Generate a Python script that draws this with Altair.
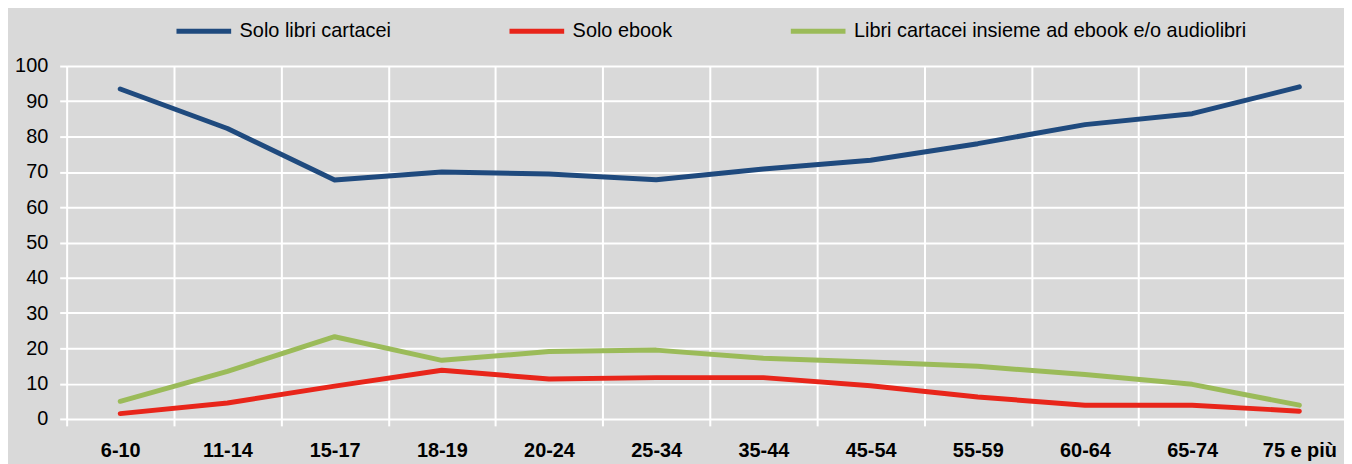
import altair as alt
import pandas as pd

ages = ["6-10", "11-14", "15-17", "18-19", "20-24", "25-34", "35-44",
        "45-54", "55-59", "60-64", "65-74", "75 e più"]
series_names = ["Solo libri cartacei", "Solo ebook",
                "Libri cartacei insieme ad ebook e/o audiolibri"]
solo_cartacei = [93.5, 82.3, 67.7, 70.0, 69.4, 67.8, 70.8, 73.3, 78.0, 83.4, 86.5, 94.1]
solo_ebook = [1.5, 4.5, 9.3, 13.8, 11.3, 11.7, 11.7, 9.4, 6.2, 3.9, 3.9, 2.2]
insieme = [5.0, 13.5, 23.3, 16.6, 19.1, 19.5, 17.2, 16.1, 14.9, 12.6, 9.8, 3.9]
colors = ["#1F4A7E", "#E8251A", "#9BBB59"]

rows = []
for name, vals in zip(series_names, [solo_cartacei, solo_ebook, insieme]):
    for a, v in zip(ages, vals):
        rows.append({"age": a, "serie": name, "value": v})
df = pd.DataFrame(rows)

FONT = "Liberation Sans Narrow, Arial Narrow, Liberation Sans, Arial, sans-serif"

chart = alt.Chart(df).mark_line(strokeWidth=5, strokeCap="round", strokeJoin="round").encode(
    x=alt.X("age:N", sort=ages, title=None,
            scale=alt.Scale(type="band", range=[0, 1294], paddingInner=0, paddingOuter=0),
            axis=alt.Axis(tickBand="extent", grid=True, gridColor="white", gridWidth=2,
                          ticks=True, tickColor="white", tickWidth=2, tickSize=7,
                          domain=False, labelAngle=0, labelFontWeight="bold",
                          labelFontSize=20, labelFont=FONT, labelColor="black",
                          labelPadding=15)),
    y=alt.Y("value:Q", title=None,
            scale=alt.Scale(domain=[0, 100], nice=False),
            axis=alt.Axis(values=list(range(0, 101, 10)), grid=True, gridColor="white",
                          gridWidth=2, ticks=True, tickColor="white", tickWidth=2,
                          tickSize=7, domain=False, labelFontSize=20, labelFont=FONT,
                          labelColor="black", labelPadding=12)),
    color=alt.Color("serie:N", title=None,
                    scale=alt.Scale(domain=series_names, range=colors),
                    legend=alt.Legend(orient="none", legendX=108, legendY=-65,
                                      direction="horizontal", symbolType="stroke",
                                      symbolSize=3025, symbolStrokeWidth=5,
                                      labelFontSize=20, labelFont=FONT,
                                      labelColor="black", labelOffset=6,
                                      columnPadding=108, padding=0,
                                      labelLimit=600)),
    order=alt.Order("age_idx:Q"),
).transform_calculate(
    age_idx="indexof(%s, datum.age)" % str(ages)
).properties(
    width=1285, height=355,
    background="#D9D9D9",
    autosize=alt.AutoSizeParams(type="none"),
    padding={"left": 59, "top": 57, "right": 0, "bottom": 50},
).configure_view(stroke=None, fill="#D9D9D9")

chart.save("out.html", embed_options={"renderer": "svg", "actions": False})
